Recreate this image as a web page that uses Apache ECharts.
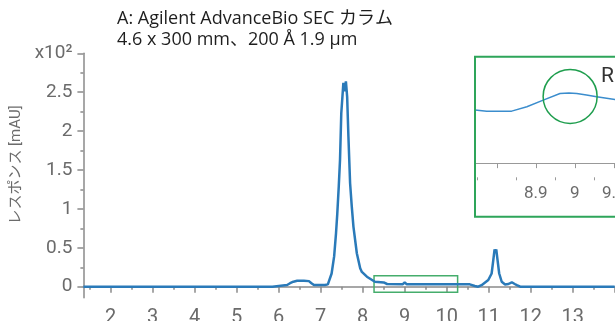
<!DOCTYPE html>
<html><head><meta charset="utf-8">
<script src="https://cdn.jsdelivr.net/npm/echarts@6/dist/echarts.min.js"></script>
<style>html,body{margin:0;padding:0;background:#fff}#c{width:615px;height:321px}</style>
</head><body><div id="c"></div>
<script>
const titleLines = ['A: Agilent AdvanceBio SEC カラム', '4.6 x 300 mm、200 Å 1.9 µm'];
const yAxisName = 'レスポンス [mAU]';
const yUnitLabel = 'x10²';
const calloutText = 'R';

// main chromatogram (retention time in min, response in x10² mAU)
const time = [1.35, 5.85, 5.87, 6.20, 6.27, 6.35, 6.44, 6.60, 6.72, 6.78, 6.84, 7.10, 7.17, 7.205, 7.26, 7.32, 7.365, 7.395, 7.43, 7.46, 7.49, 7.54, 7.57, 7.60, 7.63, 7.66, 7.70, 7.74, 7.78, 7.86, 7.94, 7.98, 8.10, 8.13, 8.29, 8.50, 8.58, 8.62, 8.95, 9.00, 9.05, 10.55, 10.67, 10.75, 10.83, 10.87, 10.99, 11.07, 11.11, 11.14, 11.16, 11.18, 11.21, 11.25, 11.31, 11.39, 11.47, 11.55, 11.62, 11.67, 11.75, 14.0];
const response = [0, 0, 0.022, 0.022, 0.045, 0.065, 0.077, 0.077, 0.072, 0.045, 0.022, 0.022, 0.03, 0.044, 0.17, 0.39, 0.69, 0.94, 1.29, 1.63, 2.23, 2.62, 2.51, 2.64, 2.44, 1.93, 1.33, 1.03, 0.77, 0.43, 0.237, 0.19, 0.129, 0.11, 0.064, 0.055, 0.035, 0.031, 0.031, 0.057, 0.031, 0.031, 0.01, 0.0, 0.02, 0.043, 0.086, 0.17, 0.345, 0.48, 0.44, 0.48, 0.345, 0.17, 0.064, 0.03, 0.035, 0.057, 0.035, 0.02, 0.0, 0.0];

const xTickMajor = [2, 3, 4, 5, 6, 7, 8, 9, 10, 11, 12, 13, 14];
const xTickMinor = [1.5, 2.5, 3.5, 4.5, 5.5, 6.5, 7.5, 8.5, 9.5, 10.5, 11.5, 12.5, 13.5];
const xTickLabels = [2, 3, 4, 5, 6, 7, 8, 9, 10, 11, 12, 13];
const yTickMajor = [0, 0.5, 1, 1.5, 2, 2.5, 3];
const yTickMinor = [0.25, 0.75, 1.25, 1.75, 2.25, 2.75];

// zoomed inset
const insetTime = [8.744, 8.774, 8.80, 8.838, 8.877, 8.919, 8.962, 8.985, 9.005, 9.03, 9.056, 9.103, 9.15, 9.2, 9.257];
const insetResponse = [0.0300, 0.0294, 0.0294, 0.0294, 0.0319, 0.0356, 0.0394, 0.0396, 0.0394, 0.0385, 0.0375, 0.0360, 0.0352, 0.0348, 0.0345];
const insetTickMajor = [8.8, 8.9, 9.0, 9.1, 9.2];
const insetTickMinor = [8.75, 8.85, 8.95, 9.05, 9.15, 9.25];
const insetTickLabels = [8.9, 9, 9.1, 9.2];

const zoomBox = [[8.27, -0.07], [10.26, 0.14]];
const circlePoint = [8.988, 0.0377];

const FONT = 'Roboto';
const GRAY = '#6b6b6b';
const AXIS = '#8a8a8a';
const GREEN = '#2ea55a';

const chart = echarts.init(document.getElementById('c'), null, {renderer: 'canvas'});
const mainData = time.map((t, i) => [t, response[i]]);
const insetData = insetTime.map((t, i) => [t, insetResponse[i]]);

chart.setOption({
  animation: false,
  backgroundColor: '#fff',
  textStyle: {fontFamily: FONT},
  grid: [
    {left: 83.4, top: 53.3, width: 531.3, height: 244.4, containLabel: false, outerBoundsMode: 'none'},
    {left: 475, top: 57, width: 200, height: 120.3, containLabel: false, outerBoundsMode: 'none'}
  ],
  xAxis: [
    {type: 'value', gridIndex: 0, position: 'bottom', min: 1.35, max: 14,
     axisLine: {show: true, lineStyle: {color: AXIS, width: 1.5}},
     axisTick: {show: true, length: 6, customValues: xTickMajor, lineStyle: {color: AXIS, width: 1.5}},
     axisLabel: {show: true, customValues: xTickLabels, margin: 10, color: GRAY, fontSize: 20, fontFamily: FONT, hideOverlap: false},
     splitLine: {show: false}},
    {type: 'value', gridIndex: 0, position: 'bottom', min: 1.35, max: 14,
     axisLine: {show: false},
     axisTick: {show: true, length: 3, customValues: xTickMinor, lineStyle: {color: AXIS, width: 1.5}},
     axisLabel: {show: false}, splitLine: {show: false}},
    {type: 'value', gridIndex: 1, position: 'bottom', min: 8.744, max: 9.257,
     axisLine: {show: true, lineStyle: {color: '#999', width: 1}},
     axisTick: {show: true, length: 5, customValues: insetTickMajor, lineStyle: {color: '#999'}},
     axisLabel: {show: true, customValues: insetTickLabels, margin: 8, color: GRAY, fontSize: 17, fontFamily: FONT},
     splitLine: {show: false}},
    {type: 'value', gridIndex: 1, position: 'bottom', min: 8.744, max: 9.257,
     axisLine: {show: false},
     axisTick: {show: true, length: 3, customValues: insetTickMinor, lineStyle: {color: '#999'}},
     axisLabel: {show: false}, splitLine: {show: false}}
  ],
  yAxis: [
    {type: 'value', gridIndex: 0, position: 'left', min: -0.141, max: 3,
     axisLine: {show: true, lineStyle: {color: AXIS, width: 1.5}},
     axisTick: {show: true, length: 6, customValues: yTickMajor, lineStyle: {color: AXIS, width: 1.5}},
     axisLabel: {show: true, customValues: yTickMajor, margin: 11, color: GRAY, fontSize: 19, fontFamily: FONT,
       formatter: v => (v === 3 ? yUnitLabel : String(v))},
     splitLine: {show: false}},
    {type: 'value', gridIndex: 0, position: 'left', min: -0.141, max: 3,
     axisLine: {show: false},
     axisTick: {show: true, length: 3, customValues: yTickMinor, lineStyle: {color: AXIS, width: 1.5}},
     axisLabel: {show: false}, splitLine: {show: false}},
    {type: 'value', gridIndex: 1, min: -0.008, max: 0.060, show: false}
  ],
  series: [
    {type: 'line', xAxisIndex: 0, yAxisIndex: 0, data: mainData, showSymbol: false, symbol: 'none',
     lineStyle: {color: '#2a7ab9', width: 2.5}, z: 3,
     markArea: {silent: true,
       itemStyle: {color: 'rgba(0,0,0,0)', borderColor: '#45ad6c', borderWidth: 1.5},
       data: [[{coord: zoomBox[0]}, {coord: zoomBox[1]}]]}},
    {type: 'line', xAxisIndex: 2, yAxisIndex: 2, data: insetData, showSymbol: false, symbol: 'none',
     lineStyle: {color: '#3b8dcd', width: 1.5}, clip: true,
     markPoint: {silent: true, symbol: 'circle', symbolSize: 54,
       itemStyle: {color: 'rgba(0,0,0,0)', borderColor: '#1f9e4e', borderWidth: 1.5},
       label: {show: false},
       data: [{coord: circlePoint}]}}
  ],
  graphic: [
    {type: 'text', left: 117, top: 10, style: {text: titleLines[0], font: '18px "Open Sans", "Noto Sans CJK JP"', fill: '#1e1e1e'}},
    {type: 'text', left: 117, top: 31, style: {text: titleLines[1], font: '18px "Open Sans", "Noto Sans CJK JP"', fill: '#1e1e1e'}},
    {type: 'text', x: 16, y: 165, rotation: Math.PI / 2,
     style: {text: yAxisName, font: '15px Roboto, "Noto Sans CJK JP"', fill: GRAY, align: 'center', verticalAlign: 'middle'}},
    {type: 'rect', shape: {x: 475, y: 56.7, width: 200, height: 160}, style: {fill: 'none', stroke: GREEN, lineWidth: 2}, z: 10},
    {type: 'text', left: 601, top: 66, style: {text: calloutText, font: '21px Roboto', fill: '#333'}}
  ]
});
</script>
</body></html>
